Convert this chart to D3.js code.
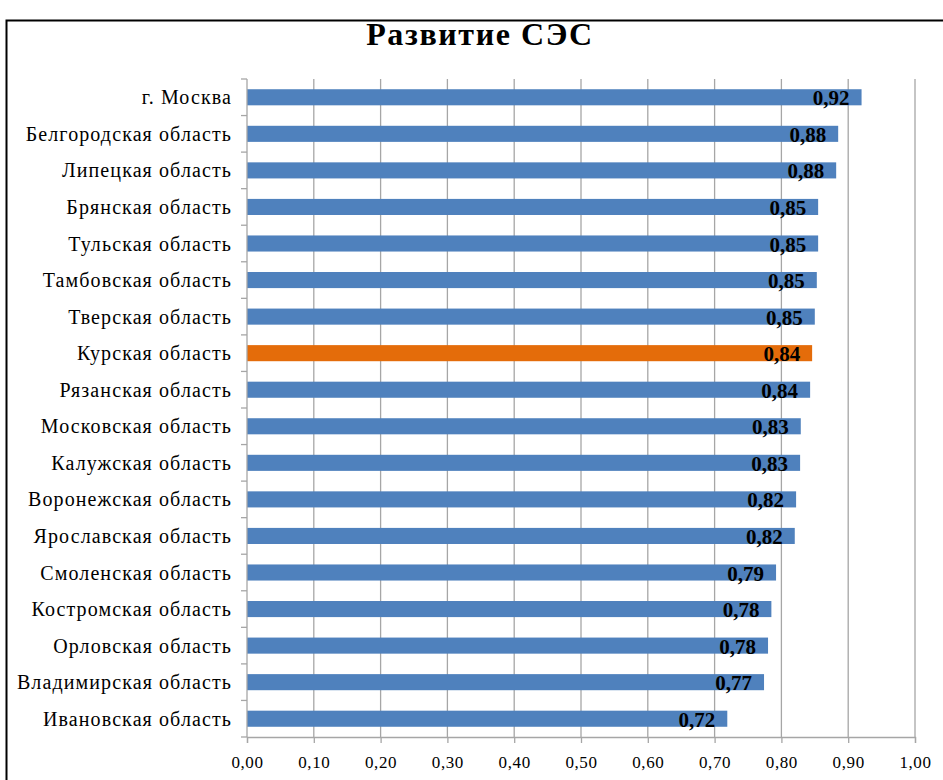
<!DOCTYPE html>
<html>
<head>
<meta charset="utf-8">
<script src="https://cdn.jsdelivr.net/npm/d3@7"></script>
<style>
  body { margin: 0; background: #fff; }
  svg { display: block; }
</style>
</head>
<body>
<div id="chart"></div>
<script>
const regions = ['г. Москва', 'Белгородская область', 'Липецкая область', 'Брянская область',
  'Тульская область', 'Тамбовская область', 'Тверская область', 'Курская область',
  'Рязанская область', 'Московская область', 'Калужская область', 'Воронежская область',
  'Ярославская область', 'Смоленская область', 'Костромская область', 'Орловская область',
  'Владимирская область', 'Ивановская область'];
const values = [0.92, 0.885, 0.882, 0.855, 0.855, 0.853, 0.85, 0.846, 0.843, 0.829,
  0.828, 0.822, 0.82, 0.792, 0.785, 0.78, 0.774, 0.719];
const shown = ['0,92', '0,88', '0,88', '0,85', '0,85', '0,85', '0,85', '0,84', '0,84', '0,83',
  '0,83', '0,82', '0,82', '0,79', '0,78', '0,78', '0,77', '0,72'];
const highlight = 'Курская область';
const xTicks = [0, 0.1, 0.2, 0.3, 0.4, 0.5, 0.6, 0.7, 0.8, 0.9, 1.0];

const W = 943, H = 780;
const M = {top: 79, left: 247, right: 28, bottom: 43};
const BLUE = '#4f81bd', ORANGE = '#e46c0a', GRID = '#a6a6a6';
const SERIF = '"Liberation Serif", "Times New Roman", serif';

const svg = d3.select('#chart').append('svg')
  .attr('width', W).attr('height', H);

// chart frame
svg.append('rect')
  .attr('x', 6.5).attr('y', 20.5)
  .attr('width', W + 20).attr('height', H + 20)
  .attr('fill', '#fff').attr('stroke', '#000').attr('stroke-width', 2);

svg.append('text')
  .attr('x', 480).attr('y', 45)
  .attr('text-anchor', 'middle')
  .style('font-family', SERIF).style('font-weight', 'bold').style('font-size', '32px')
  .style('letter-spacing', '1.6px')
  .text('Развитие СЭС');

const x = d3.scaleLinear().domain([0, 1]).range([M.left, W - M.right]);
const y = d3.scaleBand().domain(regions).range([M.top, H - M.bottom]).paddingInner(0.56).paddingOuter(0.28);
const yStep = d3.scaleBand().domain(regions).range([M.top, H - M.bottom]);

// vertical gridlines
svg.append('g').selectAll('line')
  .data(xTicks.slice(1))
  .join('line')
  .attr('x1', d => x(d)).attr('x2', d => x(d))
  .attr('y1', M.top).attr('y2', H - M.bottom)
  .attr('stroke', GRID).attr('stroke-width', 1.3);

// bars
svg.append('g').selectAll('rect')
  .data(regions)
  .join('rect')
  .attr('x', x(0))
  .attr('y', d => y(d))
  .attr('width', (d, i) => x(values[i]) - x(0))
  .attr('height', y.bandwidth())
  .attr('fill', d => d === highlight ? ORANGE : BLUE);

// value labels
svg.append('g').selectAll('text')
  .data(regions)
  .join('text')
  .attr('x', (d, i) => x(values[i]) - 12)
  .attr('y', d => y(d) + y.bandwidth() / 2 + 8)
  .attr('text-anchor', 'end')
  .style('font-family', SERIF).style('font-weight', 'bold').style('font-size', '21px')
  .text((d, i) => shown[i]);

// x axis
const xAxis = svg.append('g')
  .attr('transform', `translate(0,${H - M.bottom})`)
  .call(d3.axisBottom(x).tickValues(xTicks).tickSize(6).tickPadding(13)
    .tickFormat(d => d3.format('.2f')(d).replace('.', ',')));
xAxis.select('.domain').attr('stroke', GRID).attr('stroke-width', 1.3);
xAxis.selectAll('.tick line').attr('stroke', GRID).attr('stroke-width', 1.3);
xAxis.selectAll('.tick text')
  .style('font-family', SERIF).style('font-size', '17px').style('letter-spacing', '0.6px')
  .attr('fill', '#000');

// y axis with ticks between categories
const yAxis = svg.append('g')
  .attr('transform', `translate(${M.left},0)`);
yAxis.append('line')
  .attr('x1', 0).attr('x2', 0).attr('y1', M.top).attr('y2', H - M.bottom)
  .attr('stroke', GRID).attr('stroke-width', 1.3);
yAxis.selectAll('line.sep')
  .data(regions.concat(['end']))
  .join('line')
  .attr('class', 'sep')
  .attr('x1', -6).attr('x2', 0)
  .attr('y1', (d, i) => i < regions.length ? yStep(d) : H - M.bottom)
  .attr('y2', (d, i) => i < regions.length ? yStep(d) : H - M.bottom)
  .attr('stroke', GRID).attr('stroke-width', 1.3);
yAxis.selectAll('text')
  .data(regions)
  .join('text')
  .attr('x', -15)
  .attr('y', d => yStep(d) + yStep.bandwidth() / 2 + 7)
  .attr('text-anchor', 'end')
  .style('font-family', SERIF).style('font-size', '20px').style('letter-spacing', '1.1px')
  .text(d => d);
</script>
</body>
</html>
